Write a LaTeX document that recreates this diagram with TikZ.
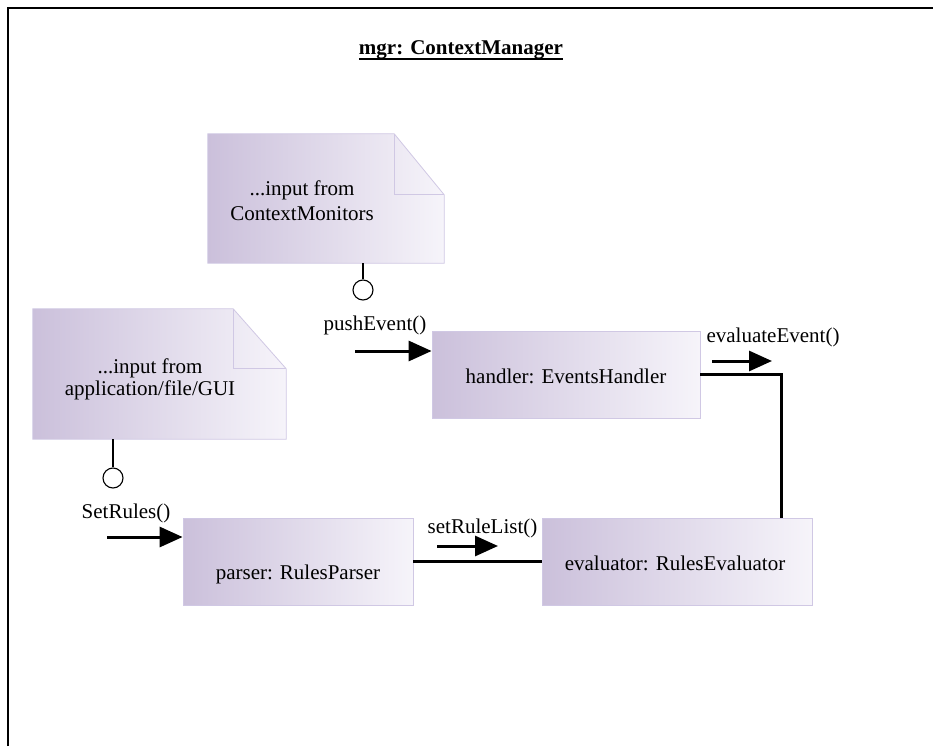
\documentclass[tikz,border=0pt]{standalone}
\usepackage{fontspec}
\setmainfont{Liberation Serif}
\usetikzlibrary{arrows.meta}
\definecolor{boxL}{RGB}{203,192,219}
\definecolor{boxR}{RGB}{246,244,250}
\definecolor{boxborder}{RGB}{208,200,228}
\tikzset{
  obj/.style={draw=boxborder, line width=0.8pt, left color=boxL, right color=boxR, inner sep=0pt},
  anchorbox/.style={inner sep=0pt, draw=none, fill=none},
  txt/.style={font=\fontsize{21}{25}\selectfont, inner sep=0pt, anchor=base},
  conn/.style={line width=3pt},
  msg/.style={line width=3pt, -{Triangle[length=23pt,width=20pt]}},
  lolli/.style={line width=1.1pt, black},
  foldline/.style={draw=boxborder, line width=0.8pt}
}
\begin{document}
\begin{tikzpicture}[x=1pt,y=-1pt]
\useasboundingbox (0,0) rectangle (933,746);
\fill[white] (0,0) rectangle (933,746);
% frame
\draw[line width=2.5pt] (8,746) -- (8,8) -- (933,8);
\node[txt, font=\fontsize{21}{25}\selectfont\bfseries] (title) at (461,55) {mgr: ContextManager};
\draw[line width=1.6pt] ([yshift=-4pt]title.base west) -- ([yshift=-4pt]title.base east);

% note 1
\node[anchorbox, minimum width=236pt, minimum height=129pt] (note1) at (326,198.5) {};
\path[left color=boxL, right color=boxR] (note1.north west) -- ([xshift=-50pt]note1.north east) -- ([yshift=-61pt]note1.north east) -- (note1.south east) -- (note1.south west) -- cycle;
\draw[foldline] (note1.north west) -- ([xshift=-50pt]note1.north east) -- ([yshift=-61pt]note1.north east) -- (note1.south east) -- (note1.south west) -- cycle;
\draw[foldline] ([xshift=-50pt]note1.north east) -- ([xshift=-50pt,yshift=-61pt]note1.north east) -- ([yshift=-61pt]note1.north east);
\node[txt] (note1a) at (302,195) {...input from};
\node[txt] (note1b) at (302,220) {ContextMonitors};
\node[draw, lolli, circle, minimum size=20pt, inner sep=0pt] (port1) at (363,290) {};
\draw[lolli] (note1.south -| port1) -- (port1.north);

% note 2
\node[anchorbox, minimum width=253pt, minimum height=130pt] (note2) at (159.5,374) {};
\path[left color=boxL, right color=boxR] (note2.north west) -- ([xshift=-53pt]note2.north east) -- ([yshift=-60pt]note2.north east) -- (note2.south east) -- (note2.south west) -- cycle;
\draw[foldline] (note2.north west) -- ([xshift=-53pt]note2.north east) -- ([yshift=-60pt]note2.north east) -- (note2.south east) -- (note2.south west) -- cycle;
\draw[foldline] ([xshift=-53pt]note2.north east) -- ([xshift=-53pt,yshift=-60pt]note2.north east) -- ([yshift=-60pt]note2.north east);
\node[txt] (note2a) at (150,373) {...input from};
\node[txt] (note2b) at (150,395) {application/file/GUI};
\node[draw, lolli, circle, minimum size=20pt, inner sep=0pt] (port2) at (113,478) {};
\draw[lolli] (note2.south -| port2) -- (port2.north);

% objects
\node[obj, minimum width=268pt, minimum height=87pt] (handler) at (566,374.5) {};
\node[txt] (handlert) at (566,383) {handler: EventsHandler};
\node[obj, minimum width=230pt, minimum height=87pt] (parser) at (298,561.5) {};
\node[txt] (parsert) at (298,579) {parser: RulesParser};
\node[obj, minimum width=270pt, minimum height=87pt] (evaluator) at (677,561.5) {};
\node[txt] (evaluatort) at (675,570) {evaluator: RulesEvaluator};

% connectors
\coordinate (bend) at (781,374.5);
\draw[conn] (handler.east) -- (bend) -- (bend |- evaluator.north);
\draw[conn] (parser.east) -- (evaluator.west);

% message arrows and labels
\node[txt] (pushl) at (375,330) {pushEvent()};
\coordinate (push0) at (355,351);
\draw[msg] (push0) -- (handler.west |- push0);
\node[txt] (evall) at (773,342) {evaluateEvent()};
\coordinate (eval0) at (712,361);
\coordinate (eval1) at (772,361);
\draw[msg] (eval0) -- (eval1);
\node[txt] (setrl) at (482.5,533) {setRuleList()};
\coordinate (srl0) at (437,546);
\coordinate (srl1) at (498,546);
\draw[msg] (srl0) -- (srl1);
\node[txt] (setr) at (126,518) {SetRules()};
\coordinate (sr0) at (107,537);
\draw[msg] (sr0) -- (parser.west |- sr0);
\end{tikzpicture}
\end{document}
